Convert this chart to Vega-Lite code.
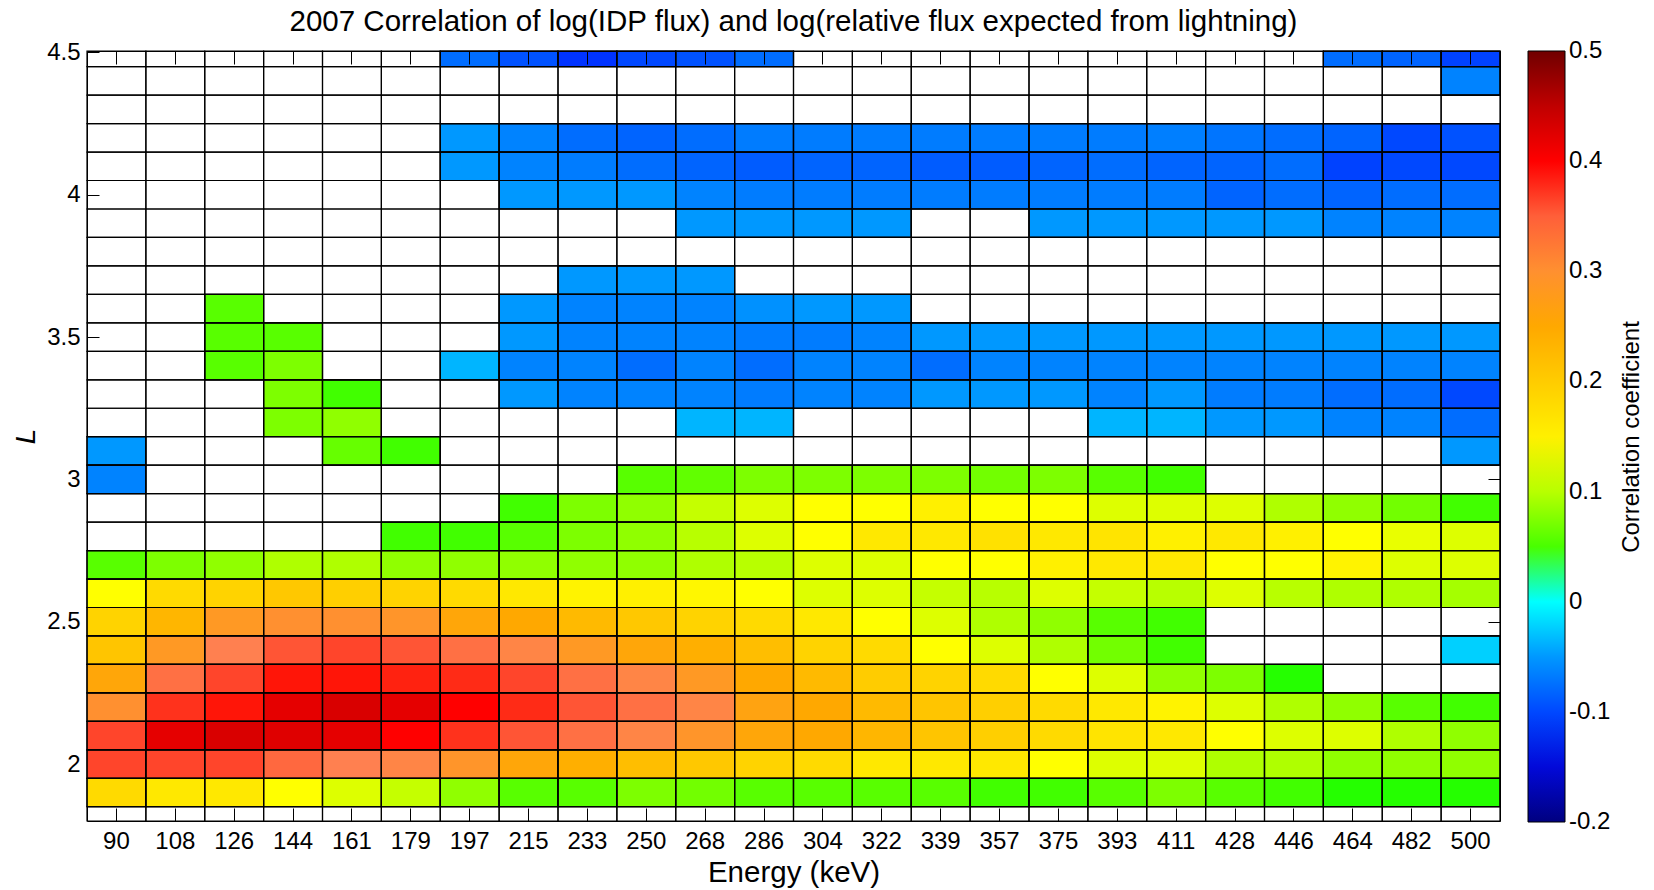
{
"$schema":"https://vega.github.io/schema/vega-lite/v6.json",
"width":1413,"height":770,"autosize":"none",
"padding":{"left":87,"top":51,"right":154,"bottom":69},
"background":"white",
"config":{"view":{"stroke":null},"font":"Liberation Sans","axis":{"grid":false,"domainColor":"black","tickColor":"black","labelColor":"black","titleColor":"black","titleFontWeight":"normal","labelFont":"Liberation Sans","titleFont":"Liberation Sans"}},
"title":{"text":"2007 Correlation of log(IDP flux) and log(relative flux expected from lightning)","fontSize":29.5,"fontWeight":"normal","font":"Liberation Sans","color":"black","offset":3,"anchor":"middle"},
"data":{"values":[
{"E":90,"L":4.5},{"E":108,"L":4.5},{"E":126,"L":4.5},{"E":144,"L":4.5},{"E":161,"L":4.5},{"E":179,"L":4.5},{"E":197,"L":4.5,"r":-0.08},{"E":215,"L":4.5,"r":-0.095},{"E":233,"L":4.5,"r":-0.115},{"E":250,"L":4.5,"r":-0.1},{"E":268,"L":4.5,"r":-0.095},{"E":286,"L":4.5,"r":-0.08},{"E":304,"L":4.5},{"E":322,"L":4.5},{"E":339,"L":4.5},{"E":357,"L":4.5},{"E":375,"L":4.5},{"E":393,"L":4.5},{"E":411,"L":4.5},{"E":428,"L":4.5},{"E":446,"L":4.5},{"E":464,"L":4.5,"r":-0.08},{"E":482,"L":4.5,"r":-0.085},{"E":500,"L":4.5,"r":-0.105},
{"E":90,"L":4.4},{"E":108,"L":4.4},{"E":126,"L":4.4},{"E":144,"L":4.4},{"E":161,"L":4.4},{"E":179,"L":4.4},{"E":197,"L":4.4},{"E":215,"L":4.4},{"E":233,"L":4.4},{"E":250,"L":4.4},{"E":268,"L":4.4},{"E":286,"L":4.4},{"E":304,"L":4.4},{"E":322,"L":4.4},{"E":339,"L":4.4},{"E":357,"L":4.4},{"E":375,"L":4.4},{"E":393,"L":4.4},{"E":411,"L":4.4},{"E":428,"L":4.4},{"E":446,"L":4.4},{"E":464,"L":4.4},{"E":482,"L":4.4},{"E":500,"L":4.4,"r":-0.065},
{"E":90,"L":4.3},{"E":108,"L":4.3},{"E":126,"L":4.3},{"E":144,"L":4.3},{"E":161,"L":4.3},{"E":179,"L":4.3},{"E":197,"L":4.3},{"E":215,"L":4.3},{"E":233,"L":4.3},{"E":250,"L":4.3},{"E":268,"L":4.3},{"E":286,"L":4.3},{"E":304,"L":4.3},{"E":322,"L":4.3},{"E":339,"L":4.3},{"E":357,"L":4.3},{"E":375,"L":4.3},{"E":393,"L":4.3},{"E":411,"L":4.3},{"E":428,"L":4.3},{"E":446,"L":4.3},{"E":464,"L":4.3},{"E":482,"L":4.3},{"E":500,"L":4.3},
{"E":90,"L":4.2},{"E":108,"L":4.2},{"E":126,"L":4.2},{"E":144,"L":4.2},{"E":161,"L":4.2},{"E":179,"L":4.2},{"E":197,"L":4.2,"r":-0.05},{"E":215,"L":4.2,"r":-0.065},{"E":233,"L":4.2,"r":-0.08},{"E":250,"L":4.2,"r":-0.085},{"E":268,"L":4.2,"r":-0.08},{"E":286,"L":4.2,"r":-0.07},{"E":304,"L":4.2,"r":-0.07},{"E":322,"L":4.2,"r":-0.07},{"E":339,"L":4.2,"r":-0.07},{"E":357,"L":4.2,"r":-0.07},{"E":375,"L":4.2,"r":-0.07},{"E":393,"L":4.2,"r":-0.07},{"E":411,"L":4.2,"r":-0.068},{"E":428,"L":4.2,"r":-0.075},{"E":446,"L":4.2,"r":-0.08},{"E":464,"L":4.2,"r":-0.085},{"E":482,"L":4.2,"r":-0.1},{"E":500,"L":4.2,"r":-0.095},
{"E":90,"L":4.1},{"E":108,"L":4.1},{"E":126,"L":4.1},{"E":144,"L":4.1},{"E":161,"L":4.1},{"E":179,"L":4.1},{"E":197,"L":4.1,"r":-0.05},{"E":215,"L":4.1,"r":-0.065},{"E":233,"L":4.1,"r":-0.07},{"E":250,"L":4.1,"r":-0.08},{"E":268,"L":4.1,"r":-0.085},{"E":286,"L":4.1,"r":-0.09},{"E":304,"L":4.1,"r":-0.085},{"E":322,"L":4.1,"r":-0.085},{"E":339,"L":4.1,"r":-0.09},{"E":357,"L":4.1,"r":-0.09},{"E":375,"L":4.1,"r":-0.085},{"E":393,"L":4.1,"r":-0.08},{"E":411,"L":4.1,"r":-0.085},{"E":428,"L":4.1,"r":-0.085},{"E":446,"L":4.1,"r":-0.08},{"E":464,"L":4.1,"r":-0.105},{"E":482,"L":4.1,"r":-0.1},{"E":500,"L":4.1,"r":-0.1},
{"E":90,"L":4.0},{"E":108,"L":4.0},{"E":126,"L":4.0},{"E":144,"L":4.0},{"E":161,"L":4.0},{"E":179,"L":4.0},{"E":197,"L":4.0},{"E":215,"L":4.0,"r":-0.05},{"E":233,"L":4.0,"r":-0.05},{"E":250,"L":4.0,"r":-0.05},{"E":268,"L":4.0,"r":-0.065},{"E":286,"L":4.0,"r":-0.07},{"E":304,"L":4.0,"r":-0.07},{"E":322,"L":4.0,"r":-0.07},{"E":339,"L":4.0,"r":-0.07},{"E":357,"L":4.0,"r":-0.07},{"E":375,"L":4.0,"r":-0.07},{"E":393,"L":4.0,"r":-0.07},{"E":411,"L":4.0,"r":-0.07},{"E":428,"L":4.0,"r":-0.085},{"E":446,"L":4.0,"r":-0.08},{"E":464,"L":4.0,"r":-0.085},{"E":482,"L":4.0,"r":-0.08},{"E":500,"L":4.0,"r":-0.08},
{"E":90,"L":3.9},{"E":108,"L":3.9},{"E":126,"L":3.9},{"E":144,"L":3.9},{"E":161,"L":3.9},{"E":179,"L":3.9},{"E":197,"L":3.9},{"E":215,"L":3.9},{"E":233,"L":3.9},{"E":250,"L":3.9},{"E":268,"L":3.9,"r":-0.05},{"E":286,"L":3.9,"r":-0.05},{"E":304,"L":3.9,"r":-0.05},{"E":322,"L":3.9,"r":-0.05},{"E":339,"L":3.9},{"E":357,"L":3.9},{"E":375,"L":3.9,"r":-0.05},{"E":393,"L":3.9,"r":-0.05},{"E":411,"L":3.9,"r":-0.05},{"E":428,"L":3.9,"r":-0.05},{"E":446,"L":3.9,"r":-0.05},{"E":464,"L":3.9,"r":-0.065},{"E":482,"L":3.9,"r":-0.065},{"E":500,"L":3.9,"r":-0.065},
{"E":90,"L":3.8},{"E":108,"L":3.8},{"E":126,"L":3.8},{"E":144,"L":3.8},{"E":161,"L":3.8},{"E":179,"L":3.8},{"E":197,"L":3.8},{"E":215,"L":3.8},{"E":233,"L":3.8},{"E":250,"L":3.8},{"E":268,"L":3.8},{"E":286,"L":3.8},{"E":304,"L":3.8},{"E":322,"L":3.8},{"E":339,"L":3.8},{"E":357,"L":3.8},{"E":375,"L":3.8},{"E":393,"L":3.8},{"E":411,"L":3.8},{"E":428,"L":3.8},{"E":446,"L":3.8},{"E":464,"L":3.8},{"E":482,"L":3.8},{"E":500,"L":3.8},
{"E":90,"L":3.7},{"E":108,"L":3.7},{"E":126,"L":3.7},{"E":144,"L":3.7},{"E":161,"L":3.7},{"E":179,"L":3.7},{"E":197,"L":3.7},{"E":215,"L":3.7},{"E":233,"L":3.7,"r":-0.05},{"E":250,"L":3.7,"r":-0.05},{"E":268,"L":3.7,"r":-0.05},{"E":286,"L":3.7},{"E":304,"L":3.7},{"E":322,"L":3.7},{"E":339,"L":3.7},{"E":357,"L":3.7},{"E":375,"L":3.7},{"E":393,"L":3.7},{"E":411,"L":3.7},{"E":428,"L":3.7},{"E":446,"L":3.7},{"E":464,"L":3.7},{"E":482,"L":3.7},{"E":500,"L":3.7},
{"E":90,"L":3.6},{"E":108,"L":3.6},{"E":126,"L":3.6,"r":0.055},{"E":144,"L":3.6},{"E":161,"L":3.6},{"E":179,"L":3.6},{"E":197,"L":3.6},{"E":215,"L":3.6,"r":-0.05},{"E":233,"L":3.6,"r":-0.065},{"E":250,"L":3.6,"r":-0.065},{"E":268,"L":3.6,"r":-0.065},{"E":286,"L":3.6,"r":-0.055},{"E":304,"L":3.6,"r":-0.05},{"E":322,"L":3.6,"r":-0.05},{"E":339,"L":3.6},{"E":357,"L":3.6},{"E":375,"L":3.6},{"E":393,"L":3.6},{"E":411,"L":3.6},{"E":428,"L":3.6},{"E":446,"L":3.6},{"E":464,"L":3.6},{"E":482,"L":3.6},{"E":500,"L":3.6},
{"E":90,"L":3.5},{"E":108,"L":3.5},{"E":126,"L":3.5,"r":0.055},{"E":144,"L":3.5,"r":0.055},{"E":161,"L":3.5},{"E":179,"L":3.5},{"E":197,"L":3.5},{"E":215,"L":3.5,"r":-0.05},{"E":233,"L":3.5,"r":-0.065},{"E":250,"L":3.5,"r":-0.065},{"E":268,"L":3.5,"r":-0.065},{"E":286,"L":3.5,"r":-0.07},{"E":304,"L":3.5,"r":-0.07},{"E":322,"L":3.5,"r":-0.065},{"E":339,"L":3.5,"r":-0.05},{"E":357,"L":3.5,"r":-0.05},{"E":375,"L":3.5,"r":-0.05},{"E":393,"L":3.5,"r":-0.05},{"E":411,"L":3.5,"r":-0.05},{"E":428,"L":3.5,"r":-0.05},{"E":446,"L":3.5,"r":-0.05},{"E":464,"L":3.5,"r":-0.05},{"E":482,"L":3.5,"r":-0.05},{"E":500,"L":3.5,"r":-0.05},
{"E":90,"L":3.4},{"E":108,"L":3.4},{"E":126,"L":3.4,"r":0.055},{"E":144,"L":3.4,"r":0.07},{"E":161,"L":3.4},{"E":179,"L":3.4},{"E":197,"L":3.4,"r":-0.035},{"E":215,"L":3.4,"r":-0.065},{"E":233,"L":3.4,"r":-0.065},{"E":250,"L":3.4,"r":-0.08},{"E":268,"L":3.4,"r":-0.065},{"E":286,"L":3.4,"r":-0.08},{"E":304,"L":3.4,"r":-0.065},{"E":322,"L":3.4,"r":-0.065},{"E":339,"L":3.4,"r":-0.08},{"E":357,"L":3.4,"r":-0.065},{"E":375,"L":3.4,"r":-0.065},{"E":393,"L":3.4,"r":-0.065},{"E":411,"L":3.4,"r":-0.065},{"E":428,"L":3.4,"r":-0.065},{"E":446,"L":3.4,"r":-0.065},{"E":464,"L":3.4,"r":-0.065},{"E":482,"L":3.4,"r":-0.065},{"E":500,"L":3.4,"r":-0.065},
{"E":90,"L":3.3},{"E":108,"L":3.3},{"E":126,"L":3.3},{"E":144,"L":3.3,"r":0.07},{"E":161,"L":3.3,"r":0.045},{"E":179,"L":3.3},{"E":197,"L":3.3},{"E":215,"L":3.3,"r":-0.05},{"E":233,"L":3.3,"r":-0.065},{"E":250,"L":3.3,"r":-0.065},{"E":268,"L":3.3,"r":-0.065},{"E":286,"L":3.3,"r":-0.07},{"E":304,"L":3.3,"r":-0.065},{"E":322,"L":3.3,"r":-0.065},{"E":339,"L":3.3,"r":-0.05},{"E":357,"L":3.3,"r":-0.05},{"E":375,"L":3.3,"r":-0.05},{"E":393,"L":3.3,"r":-0.065},{"E":411,"L":3.3,"r":-0.05},{"E":428,"L":3.3,"r":-0.07},{"E":446,"L":3.3,"r":-0.07},{"E":464,"L":3.3,"r":-0.08},{"E":482,"L":3.3,"r":-0.08},{"E":500,"L":3.3,"r":-0.1},
{"E":90,"L":3.2},{"E":108,"L":3.2},{"E":126,"L":3.2},{"E":144,"L":3.2,"r":0.07},{"E":161,"L":3.2,"r":0.08},{"E":179,"L":3.2},{"E":197,"L":3.2},{"E":215,"L":3.2},{"E":233,"L":3.2},{"E":250,"L":3.2},{"E":268,"L":3.2,"r":-0.035},{"E":286,"L":3.2,"r":-0.035},{"E":304,"L":3.2},{"E":322,"L":3.2},{"E":339,"L":3.2},{"E":357,"L":3.2},{"E":375,"L":3.2},{"E":393,"L":3.2,"r":-0.035},{"E":411,"L":3.2,"r":-0.035},{"E":428,"L":3.2,"r":-0.05},{"E":446,"L":3.2,"r":-0.05},{"E":464,"L":3.2,"r":-0.065},{"E":482,"L":3.2,"r":-0.065},{"E":500,"L":3.2,"r":-0.08},
{"E":90,"L":3.1,"r":-0.05},{"E":108,"L":3.1},{"E":126,"L":3.1},{"E":144,"L":3.1},{"E":161,"L":3.1,"r":0.06},{"E":179,"L":3.1,"r":0.045},{"E":197,"L":3.1},{"E":215,"L":3.1},{"E":233,"L":3.1},{"E":250,"L":3.1},{"E":268,"L":3.1},{"E":286,"L":3.1},{"E":304,"L":3.1},{"E":322,"L":3.1},{"E":339,"L":3.1},{"E":357,"L":3.1},{"E":375,"L":3.1},{"E":393,"L":3.1},{"E":411,"L":3.1},{"E":428,"L":3.1},{"E":446,"L":3.1},{"E":464,"L":3.1},{"E":482,"L":3.1},{"E":500,"L":3.1,"r":-0.05},
{"E":90,"L":3.0,"r":-0.065},{"E":108,"L":3.0},{"E":126,"L":3.0},{"E":144,"L":3.0},{"E":161,"L":3.0},{"E":179,"L":3.0},{"E":197,"L":3.0},{"E":215,"L":3.0},{"E":233,"L":3.0},{"E":250,"L":3.0,"r":0.055},{"E":268,"L":3.0,"r":0.058},{"E":286,"L":3.0,"r":0.07},{"E":304,"L":3.0,"r":0.07},{"E":322,"L":3.0,"r":0.07},{"E":339,"L":3.0,"r":0.07},{"E":357,"L":3.0,"r":0.065},{"E":375,"L":3.0,"r":0.07},{"E":393,"L":3.0,"r":0.055},{"E":411,"L":3.0,"r":0.045},{"E":428,"L":3.0},{"E":446,"L":3.0},{"E":464,"L":3.0},{"E":482,"L":3.0},{"E":500,"L":3.0},
{"E":90,"L":2.9},{"E":108,"L":2.9},{"E":126,"L":2.9},{"E":144,"L":2.9},{"E":161,"L":2.9},{"E":179,"L":2.9},{"E":197,"L":2.9},{"E":215,"L":2.9,"r":0.045},{"E":233,"L":2.9,"r":0.07},{"E":250,"L":2.9,"r":0.08},{"E":268,"L":2.9,"r":0.105},{"E":286,"L":2.9,"r":0.115},{"E":304,"L":2.9,"r":0.13},{"E":322,"L":2.9,"r":0.13},{"E":339,"L":2.9,"r":0.15},{"E":357,"L":2.9,"r":0.13},{"E":375,"L":2.9,"r":0.13},{"E":393,"L":2.9,"r":0.115},{"E":411,"L":2.9,"r":0.115},{"E":428,"L":2.9,"r":0.115},{"E":446,"L":2.9,"r":0.095},{"E":464,"L":2.9,"r":0.08},{"E":482,"L":2.9,"r":0.065},{"E":500,"L":2.9,"r":0.045},
{"E":90,"L":2.8},{"E":108,"L":2.8},{"E":126,"L":2.8},{"E":144,"L":2.8},{"E":161,"L":2.8},{"E":179,"L":2.8,"r":0.045},{"E":197,"L":2.8,"r":0.045},{"E":215,"L":2.8,"r":0.055},{"E":233,"L":2.8,"r":0.07},{"E":250,"L":2.8,"r":0.08},{"E":268,"L":2.8,"r":0.1},{"E":286,"L":2.8,"r":0.115},{"E":304,"L":2.8,"r":0.13},{"E":322,"L":2.8,"r":0.16},{"E":339,"L":2.8,"r":0.16},{"E":357,"L":2.8,"r":0.17},{"E":375,"L":2.8,"r":0.16},{"E":393,"L":2.8,"r":0.165},{"E":411,"L":2.8,"r":0.15},{"E":428,"L":2.8,"r":0.16},{"E":446,"L":2.8,"r":0.15},{"E":464,"L":2.8,"r":0.13},{"E":482,"L":2.8,"r":0.12},{"E":500,"L":2.8,"r":0.115},
{"E":90,"L":2.7,"r":0.055},{"E":108,"L":2.7,"r":0.07},{"E":126,"L":2.7,"r":0.08},{"E":144,"L":2.7,"r":0.095},{"E":161,"L":2.7,"r":0.095},{"E":179,"L":2.7,"r":0.08},{"E":197,"L":2.7,"r":0.08},{"E":215,"L":2.7,"r":0.08},{"E":233,"L":2.7,"r":0.08},{"E":250,"L":2.7,"r":0.08},{"E":268,"L":2.7,"r":0.095},{"E":286,"L":2.7,"r":0.1},{"E":304,"L":2.7,"r":0.115},{"E":322,"L":2.7,"r":0.115},{"E":339,"L":2.7,"r":0.13},{"E":357,"L":2.7,"r":0.13},{"E":375,"L":2.7,"r":0.15},{"E":393,"L":2.7,"r":0.16},{"E":411,"L":2.7,"r":0.16},{"E":428,"L":2.7,"r":0.13},{"E":446,"L":2.7,"r":0.13},{"E":464,"L":2.7,"r":0.145},{"E":482,"L":2.7,"r":0.115},{"E":500,"L":2.7,"r":0.115},
{"E":90,"L":2.6,"r":0.13},{"E":108,"L":2.6,"r":0.18},{"E":126,"L":2.6,"r":0.19},{"E":144,"L":2.6,"r":0.205},{"E":161,"L":2.6,"r":0.195},{"E":179,"L":2.6,"r":0.19},{"E":197,"L":2.6,"r":0.18},{"E":215,"L":2.6,"r":0.16},{"E":233,"L":2.6,"r":0.145},{"E":250,"L":2.6,"r":0.15},{"E":268,"L":2.6,"r":0.14},{"E":286,"L":2.6,"r":0.13},{"E":304,"L":2.6,"r":0.115},{"E":322,"L":2.6,"r":0.115},{"E":339,"L":2.6,"r":0.105},{"E":357,"L":2.6,"r":0.1},{"E":375,"L":2.6,"r":0.115},{"E":393,"L":2.6,"r":0.105},{"E":411,"L":2.6,"r":0.1},{"E":428,"L":2.6,"r":0.115},{"E":446,"L":2.6,"r":0.1},{"E":464,"L":2.6,"r":0.095},{"E":482,"L":2.6,"r":0.095},{"E":500,"L":2.6,"r":0.09},
{"E":90,"L":2.5,"r":0.19},{"E":108,"L":2.5,"r":0.23},{"E":126,"L":2.5,"r":0.28},{"E":144,"L":2.5,"r":0.3},{"E":161,"L":2.5,"r":0.3},{"E":179,"L":2.5,"r":0.29},{"E":197,"L":2.5,"r":0.255},{"E":215,"L":2.5,"r":0.25},{"E":233,"L":2.5,"r":0.225},{"E":250,"L":2.5,"r":0.205},{"E":268,"L":2.5,"r":0.19},{"E":286,"L":2.5,"r":0.18},{"E":304,"L":2.5,"r":0.16},{"E":322,"L":2.5,"r":0.13},{"E":339,"L":2.5,"r":0.115},{"E":357,"L":2.5,"r":0.095},{"E":375,"L":2.5,"r":0.08},{"E":393,"L":2.5,"r":0.055},{"E":411,"L":2.5,"r":0.045},{"E":428,"L":2.5},{"E":446,"L":2.5},{"E":464,"L":2.5},{"E":482,"L":2.5},{"E":500,"L":2.5},
{"E":90,"L":2.4,"r":0.21},{"E":108,"L":2.4,"r":0.28},{"E":126,"L":2.4,"r":0.33},{"E":144,"L":2.4,"r":0.355},{"E":161,"L":2.4,"r":0.365},{"E":179,"L":2.4,"r":0.355},{"E":197,"L":2.4,"r":0.34},{"E":215,"L":2.4,"r":0.32},{"E":233,"L":2.4,"r":0.28},{"E":250,"L":2.4,"r":0.255},{"E":268,"L":2.4,"r":0.24},{"E":286,"L":2.4,"r":0.22},{"E":304,"L":2.4,"r":0.19},{"E":322,"L":2.4,"r":0.18},{"E":339,"L":2.4,"r":0.13},{"E":357,"L":2.4,"r":0.115},{"E":375,"L":2.4,"r":0.095},{"E":393,"L":2.4,"r":0.065},{"E":411,"L":2.4,"r":0.045},{"E":428,"L":2.4},{"E":446,"L":2.4},{"E":464,"L":2.4},{"E":482,"L":2.4},{"E":500,"L":2.4,"r":-0.02},
{"E":90,"L":2.3,"r":0.255},{"E":108,"L":2.3,"r":0.34},{"E":126,"L":2.3,"r":0.365},{"E":144,"L":2.3,"r":0.395},{"E":161,"L":2.3,"r":0.395},{"E":179,"L":2.3,"r":0.39},{"E":197,"L":2.3,"r":0.385},{"E":215,"L":2.3,"r":0.365},{"E":233,"L":2.3,"r":0.34},{"E":250,"L":2.3,"r":0.32},{"E":268,"L":2.3,"r":0.28},{"E":286,"L":2.3,"r":0.25},{"E":304,"L":2.3,"r":0.225},{"E":322,"L":2.3,"r":0.2},{"E":339,"L":2.3,"r":0.19},{"E":357,"L":2.3,"r":0.18},{"E":375,"L":2.3,"r":0.13},{"E":393,"L":2.3,"r":0.115},{"E":411,"L":2.3,"r":0.08},{"E":428,"L":2.3,"r":0.07},{"E":446,"L":2.3,"r":0.03},{"E":464,"L":2.3},{"E":482,"L":2.3},{"E":500,"L":2.3},
{"E":90,"L":2.2,"r":0.3},{"E":108,"L":2.2,"r":0.38},{"E":126,"L":2.2,"r":0.395},{"E":144,"L":2.2,"r":0.42},{"E":161,"L":2.2,"r":0.43},{"E":179,"L":2.2,"r":0.42},{"E":197,"L":2.2,"r":0.4},{"E":215,"L":2.2,"r":0.385},{"E":233,"L":2.2,"r":0.355},{"E":250,"L":2.2,"r":0.34},{"E":268,"L":2.2,"r":0.32},{"E":286,"L":2.2,"r":0.26},{"E":304,"L":2.2,"r":0.25},{"E":322,"L":2.2,"r":0.225},{"E":339,"L":2.2,"r":0.21},{"E":357,"L":2.2,"r":0.195},{"E":375,"L":2.2,"r":0.18},{"E":393,"L":2.2,"r":0.16},{"E":411,"L":2.2,"r":0.145},{"E":428,"L":2.2,"r":0.115},{"E":446,"L":2.2,"r":0.095},{"E":464,"L":2.2,"r":0.08},{"E":482,"L":2.2,"r":0.055},{"E":500,"L":2.2,"r":0.045},
{"E":90,"L":2.1,"r":0.365},{"E":108,"L":2.1,"r":0.42},{"E":126,"L":2.1,"r":0.43},{"E":144,"L":2.1,"r":0.425},{"E":161,"L":2.1,"r":0.42},{"E":179,"L":2.1,"r":0.4},{"E":197,"L":2.1,"r":0.38},{"E":215,"L":2.1,"r":0.355},{"E":233,"L":2.1,"r":0.34},{"E":250,"L":2.1,"r":0.32},{"E":268,"L":2.1,"r":0.29},{"E":286,"L":2.1,"r":0.255},{"E":304,"L":2.1,"r":0.25},{"E":322,"L":2.1,"r":0.23},{"E":339,"L":2.1,"r":0.21},{"E":357,"L":2.1,"r":0.195},{"E":375,"L":2.1,"r":0.18},{"E":393,"L":2.1,"r":0.165},{"E":411,"L":2.1,"r":0.16},{"E":428,"L":2.1,"r":0.13},{"E":446,"L":2.1,"r":0.115},{"E":464,"L":2.1,"r":0.115},{"E":482,"L":2.1,"r":0.095},{"E":500,"L":2.1,"r":0.08},
{"E":90,"L":2.0,"r":0.365},{"E":108,"L":2.0,"r":0.365},{"E":126,"L":2.0,"r":0.365},{"E":144,"L":2.0,"r":0.345},{"E":161,"L":2.0,"r":0.33},{"E":179,"L":2.0,"r":0.32},{"E":197,"L":2.0,"r":0.29},{"E":215,"L":2.0,"r":0.255},{"E":233,"L":2.0,"r":0.24},{"E":250,"L":2.0,"r":0.22},{"E":268,"L":2.0,"r":0.205},{"E":286,"L":2.0,"r":0.19},{"E":304,"L":2.0,"r":0.18},{"E":322,"L":2.0,"r":0.16},{"E":339,"L":2.0,"r":0.16},{"E":357,"L":2.0,"r":0.16},{"E":375,"L":2.0,"r":0.13},{"E":393,"L":2.0,"r":0.115},{"E":411,"L":2.0,"r":0.115},{"E":428,"L":2.0,"r":0.095},{"E":446,"L":2.0,"r":0.095},{"E":464,"L":2.0,"r":0.08},{"E":482,"L":2.0,"r":0.08},{"E":500,"L":2.0,"r":0.08},
{"E":90,"L":1.9,"r":0.18},{"E":108,"L":1.9,"r":0.16},{"E":126,"L":1.9,"r":0.16},{"E":144,"L":1.9,"r":0.13},{"E":161,"L":1.9,"r":0.115},{"E":179,"L":1.9,"r":0.105},{"E":197,"L":1.9,"r":0.08},{"E":215,"L":1.9,"r":0.055},{"E":233,"L":1.9,"r":0.055},{"E":250,"L":1.9,"r":0.07},{"E":268,"L":1.9,"r":0.065},{"E":286,"L":1.9,"r":0.055},{"E":304,"L":1.9,"r":0.055},{"E":322,"L":1.9,"r":0.055},{"E":339,"L":1.9,"r":0.055},{"E":357,"L":1.9,"r":0.045},{"E":375,"L":1.9,"r":0.045},{"E":393,"L":1.9,"r":0.055},{"E":411,"L":1.9,"r":0.07},{"E":428,"L":1.9,"r":0.055},{"E":446,"L":1.9,"r":0.045},{"E":464,"L":1.9,"r":0.03},{"E":482,"L":1.9,"r":0.03},{"E":500,"L":1.9,"r":0.03},
{"E":90,"L":1.8},{"E":108,"L":1.8},{"E":126,"L":1.8},{"E":144,"L":1.8},{"E":161,"L":1.8},{"E":179,"L":1.8},{"E":197,"L":1.8},{"E":215,"L":1.8},{"E":233,"L":1.8},{"E":250,"L":1.8},{"E":268,"L":1.8},{"E":286,"L":1.8},{"E":304,"L":1.8},{"E":322,"L":1.8},{"E":339,"L":1.8},{"E":357,"L":1.8},{"E":375,"L":1.8},{"E":393,"L":1.8},{"E":411,"L":1.8},{"E":428,"L":1.8},{"E":446,"L":1.8},{"E":464,"L":1.8},{"E":482,"L":1.8},{"E":500,"L":1.8}
]},
"transform":[{"calculate":"max(datum.L - 0.05, 1.8)","as":"lo"},{"calculate":"min(datum.L + 0.05, 4.505)","as":"hi"}],
"layer":[
{"transform":[{"filter":"isValid(datum.r)"}],
 "mark":{"type":"rect","stroke":"black","strokeWidth":1.2},
 "encoding":{
  "x":{"field":"E","type":"ordinal","scale":{"paddingInner":0,"paddingOuter":0},
       "axis":{"orient":"bottom","title":"Energy (keV)","titleFontSize":29.5,"labelFontSize":24,"labelAngle":0,"tickSize":-13,"labelPadding":21,"titlePadding":5}},
  "y":{"field":"lo","type":"quantitative","scale":{"domain":[1.8,4.505],"nice":false,"zero":false},
       "axis":{"orient":"left","title":"L","titleFontStyle":"italic","titleFontSize":28,"labelFontSize":24,"values":[2,2.5,3,3.5,4,4.5],"format":"~g","tickSize":-12,"labelPadding":19,"titlePadding":6}},
  "y2":{"field":"hi"},
  "color":{"field":"r","type":"quantitative",
    "scale":{"domain":[-0.2,-0.13,-0.1,-0.05,-0.02,0,0.008,0.022,0.05,0.08,0.1,0.13,0.16,0.2,0.25,0.3,0.33,0.36,0.4,0.45,0.5],
             "range":["#000080","#0010FF","#0048FF","#0098FF","#00D0FF","#00FFFF","#00FF90","#00FF00","#48FF00","#90FF00","#B8FF00","#FFFF00","#FFE800","#FFCC00","#FFA800","#FF9030","#FF8050","#FF4A30","#FF0000","#C00000","#700000"]},
    "legend":{"orient":"none","legendX":1441,"legendY":0,"direction":"vertical","gradientLength":771,"gradientThickness":37,"gradientStrokeColor":"black","gradientStrokeWidth":1,
      "values":[-0.2,-0.1,0,0.1,0.2,0.3,0.4,0.5],"format":"~g","labelExpr":"replace(datum.label, '\u2212', '-')","labelFontSize":24,"labelColor":"black","labelOffset":4,"labelOverlap":false,"labelFont":"Liberation Sans",
      "title":"Correlation coefficient","titleOrient":"right","titleFontSize":24,"titleFontWeight":"normal","titleColor":"black","titleAnchor":"middle","titlePadding":10,"titleLimit":600,"titleFont":"Liberation Sans","padding":0,
      "encode":{"labels":{"update":{"baseline":{"value":"middle"}}},"title":{"update":{"angle":{"value":-90},"baseline":{"value":"top"}}}}}}
 }},
{"mark":{"type":"rect","fill":"transparent","stroke":"black","strokeWidth":1.2},
 "encoding":{
  "x":{"field":"E","type":"ordinal","axis":{"orient":"top","labels":false,"title":null,"tickSize":-13}},
  "y":{"field":"lo","type":"quantitative","axis":{"orient":"right","labels":false,"title":null,"values":[2,2.5,3,3.5,4,4.5],"tickSize":-12}},
  "y2":{"field":"hi"}
 }}
],
"resolve":{"axis":{"x":"independent","y":"independent"}}
}
